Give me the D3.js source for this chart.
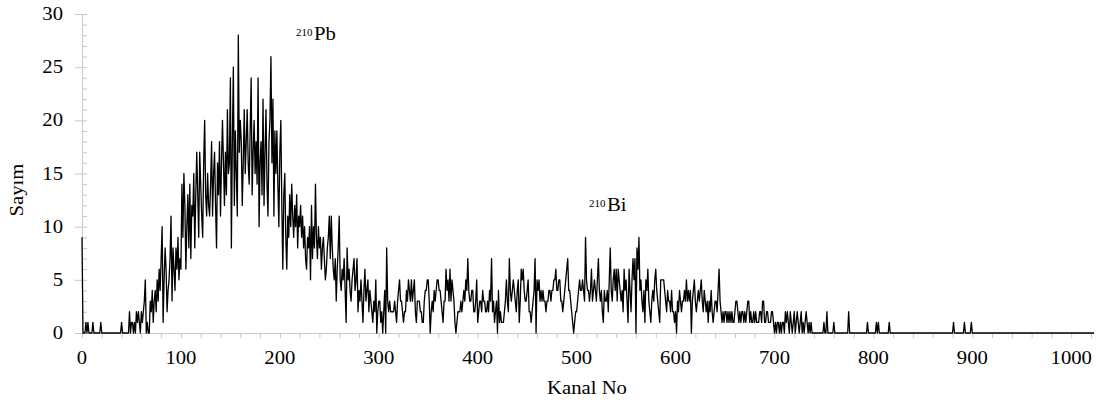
<!DOCTYPE html>
<html>
<head>
<meta charset="utf-8">
<script src="https://cdn.jsdelivr.net/npm/d3@7"></script>
<style>
  body { margin: 0; background: #fff; }
  svg text { font-family: "Liberation Serif", "Times New Roman", serif; fill: #000; }
</style>
</head>
<body>
<svg id="chart" width="1104" height="406"></svg>
<script>
// counts per channel in blocks
const countsLow = [ // ch 0-99
  9,0,0,0,1,0,1,0,0,0, 0,1,0,0,0,0,0,0,0,1,
  0,0,0,0,0,0,0,0,0,0, 0,0,0,0,0,0,0,0,0,0,
  1,0,0,0,0,0,0,0,2,0, 1,1,0,1,0,2,1,2,1,0,
  2,1,2,3,5,0,1,0,0,3, 2,4,1,3,4,2,5,3,6,4,
  7,10,1,5,8,6,2,4,5,7, 11,3,8,6,4,8,6,9,5,7
];
const countsPb = [ // ch 100-206
  6,14,9,15,12,6,10,13,8,14, 7,12,11,15,8,13,17,13,9,17,
  14,11,9,16,20,13,11,15,12,11, 14,18,11,15,17,12,8,16,13,18,
  11,16,20,16,12,17,13,21,15,16, 24,8,18,25,12,19,15,11,28,17,
  20,18,12,16,21,15,18,21,16,14, 19,24,13,17,20,15,18,14,24,10,
  16,18,13,22,12,17,21,14,11,18, 20,26,16,22,11,19,15,19,14,10,
  17,20,12,6,13,15,9
];
const countsFall = [ // ch 207-310
  6,11,9,13,10,14,11,9,12,10, 13,8,11,10,12,9,11,8,10,7,
  6,9,8,10,5,12,7,10,8,14, 9,7,10,8,9,6,8,9,7,5,
  6,8,9,11,7,11,8,6,5,7, 3,6,8,11,5,4,6,5,7,4,
  1,8,5,6,4,3,5,6,7,4, 5,7,2,4,3,5,3,1,4,6,
  3,4,5,2,4,3,2,1,3,2, 5,0,2,3,3,1,2,0,2,4,
  0,8,3,2
];
const countsMidA = [ // ch 311-412
  3,2,2,2,2,3,2,1,3,4, 5,3,3,2,1,2,2,4,3,5,
  4,3,5,3,4,5,2,1,3,3, 3,2,2,1,1,3,4,4,5,5,
  3,0,2,3,2,4,3,4,5,5, 4,4,3,2,1,3,3,6,4,5,
  3,6,3,5,4,3,1,0,1,2, 2,2,3,2,3,4,3,5,4,7,
  4,3,3,4,4,2,2,3,5,1, 2,3,3,2,4,3,3,2,2,3,
  2,4
];
const countsMidB = [ // ch 413-512
  3,7,2,3,1,2,3,0,4,1, 2,1,1,1,2,3,5,3,2,7,
  4,3,4,5,4,3,2,4,5,1, 3,6,5,6,4,3,3,4,5,2,
  2,1,2,3,4,7,0,5,4,5, 3,4,3,4,3,3,2,3,3,4,
  4,3,4,4,5,5,6,4,4,5, 5,3,3,2,3,4,5,6,7,4,
  4,3,2,1,0,1,2,2,3,4, 5,4,4,5,4,3,9,5,4,4
];
const countsBi = [ // ch 513-614
  3,4,6,3,4,5,4,3,5,7, 4,3,4,2,1,4,3,3,4,2,
  5,8,4,3,5,6,4,6,3,6, 5,4,3,4,2,6,4,5,3,1,
  6,4,2,5,7,5,7,0,8,6, 9,4,5,3,2,4,1,5,4,6,
  3,2,1,3,4,3,5,6,4,3, 2,1,5,5,5,5,4,3,2,4,
  3,3,2,4,2,2,1,2,0,3, 2,4,3,2,3,3,4,3,5,3,
  4,3
];
const countsDecay = [ // ch 615-740
  4,0,3,4,5,3,2,3,4,3, 4,5,3,2,4,3,2,3,1,3,
  2,4,2,1,2,3,3,2,4,6, 3,2,1,2,1,2,2,1,2,1,
  2,1,2,1,1,2,3,3,2,1, 2,1,2,2,1,2,1,2,3,3,
  1,2,1,1,2,1,2,1,1,1, 2,2,1,3,3,1,1,2,2,1,
  1,1,2,2,1,0,1,0,1,1, 0,1,0,1,1,0,2,1,2,1,
  0,2,1,0,1,2,0,1,2,1, 0,1,2,0,1,0,1,2,1,0,
  1,0,1,0,0,0
];
// isolated counts in the empty tail: [channel, count]
const tailSpikes = [[750,1],[753,2],[760,1],[775,2],[794,1],[803,1],[805,1],[816,1],[881,1],[892,1],[899,1]];
const nChannels = 1024;

const xTickLabels = [0,100,200,300,400,500,600,700,800,900,1000];
const yTickLabels = [0,5,10,15,20,25,30];
const peaks = [
  { iso: '210', el: 'Pb', x: 296, y: 40 },
  { iso: '210', el: 'Bi', x: 589, y: 211 }
];

const counts = [].concat(countsLow, countsPb, countsFall, countsMidA, countsMidB, countsBi, countsDecay);
while (counts.length < nChannels) counts.push(0);
tailSpikes.forEach(([c, v]) => { counts[c] = v; });

const svg = d3.select('#chart');
const x = d3.scaleLinear().domain([0, nChannels - 1]).range([82, 1094]);
const y = d3.scaleLinear().domain([0, 30]).range([333, 14]);
const stretch = 1.15;
const axisColor = '#c8c8c8';

// x axis
const gx = svg.append('g').attr('transform', `translate(0,${y(0)})`)
  .call(d3.axisBottom(x).tickValues(d3.range(0, 1021, 20)).tickSize(5).tickSizeOuter(0).tickFormat(''));
gx.selectAll('path, line').attr('stroke', axisColor);

gx.selectAll('.lbl').data(xTickLabels).enter().append('text')
  .attr('transform', d => `translate(${x(d)},31) scale(${stretch},1)`)
  .attr('text-anchor', 'middle')
  .style('font-size', '18px')
  .text(d => d);

// y axis: major ticks outside, minor ticks inside
const gy = svg.append('g').attr('transform', `translate(${x(0)},0)`)
  .call(d3.axisLeft(y).tickValues(yTickLabels).tickSize(7).tickSizeOuter(0).tickFormat(''));
gy.selectAll('path, line').attr('stroke', axisColor);
const gyMinor = svg.append('g').attr('transform', `translate(${x(0)},0)`)
  .call(d3.axisRight(y).tickValues(d3.range(0, 31)).tickSize(5).tickFormat(''));
gyMinor.select('.domain').remove();
gyMinor.selectAll('line').attr('stroke', axisColor);

gy.selectAll('.lbl').data(yTickLabels).enter().append('text')
  .attr('transform', d => `translate(-19,${y(d) + 6}) scale(${stretch},1)`)
  .attr('text-anchor', 'end')
  .style('font-size', '18px')
  .text(d => d);

// spectrum line
svg.append('path')
  .datum(counts)
  .attr('fill', 'none')
  .attr('stroke', '#000')
  .attr('stroke-width', 1.3)
  .attr('stroke-linejoin', 'round')
  .attr('d', d3.line().x((d, i) => x(i)).y(d => y(d)));

// axis titles
svg.append('text')
  .attr('transform', `translate(587,394) scale(${stretch},1)`)
  .attr('text-anchor', 'middle')
  .style('font-size', '18px')
  .text('Kanal No');

svg.append('text')
  .attr('transform', `translate(23,190) rotate(-90) scale(${stretch},1)`)
  .attr('text-anchor', 'middle')
  .style('font-size', '18px')
  .text('Sayım');

// peak annotations: superscript mass number + element
peaks.forEach(p => {
  svg.append('text')
    .attr('x', p.x)
    .attr('y', p.y - 4)
    .style('font-size', '11px')
    .text(p.iso);
  svg.append('text')
    .attr('transform', `translate(${p.x + 18},${p.y}) scale(${stretch},1)`)
    .style('font-size', '18px')
    .text(p.el);
});
</script>
</body>
</html>
